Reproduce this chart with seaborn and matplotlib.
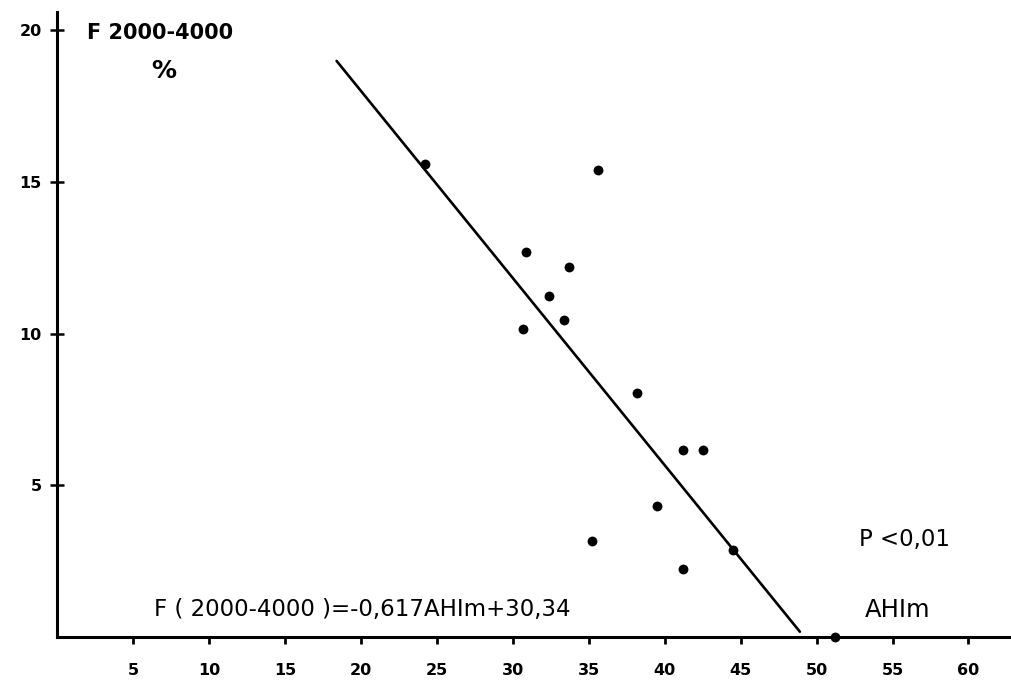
import matplotlib
matplotlib.use("Agg")
import matplotlib.pyplot as plt
import seaborn as sns
import numpy as np
import pandas as pd

# Data
ahim = [24.2, 35.6, 30.9, 33.7, 32.4, 33.4, 30.7, 38.2, 41.2, 42.5, 39.5, 35.2, 44.5, 41.2, 51.2]
f_pct = [15.6, 15.4, 12.7, 12.2, 11.25, 10.45, 10.15, 8.05, 6.15, 6.15, 4.3, 3.15, 2.85, 2.25, 0.0]
slope = -0.617
intercept = 30.34
line_x_range = [18.4, 48.9]
x_ticks = [5, 10, 15, 20, 25, 30, 35, 40, 45, 50, 55, 60]
y_ticks = [5, 10, 15, 20]

sns.set_theme(style="white")
plt.rcParams['font.family'] = ['DejaVu Sans']
plt.rcParams['text.color'] = 'black'
plt.rcParams['xtick.color'] = 'black'
plt.rcParams['ytick.color'] = 'black'

fig = plt.figure(figsize=(10.11, 6.87), dpi=100)
ax = fig.add_axes([0.0565, 0.073, 0.9435, 0.9095])

df = pd.DataFrame({"AHIm": ahim, "F": f_pct})
sns.scatterplot(data=df, x="AHIm", y="F", ax=ax, color="black", s=50,
                edgecolor="black", linewidth=0, zorder=5, clip_on=False)

lx = np.array(line_x_range)
ly = slope * lx + intercept
sns.lineplot(x=lx, y=ly, ax=ax, color="black", linewidth=1.9, zorder=4)

ax.set_xlim(0, 62.8)
ax.set_ylim(0, 20.6)
ax.set_xticks(x_ticks)
ax.set_yticks(y_ticks)
ax.set_xticklabels([str(t) for t in x_ticks], fontsize=11.5, fontweight="bold", color="black")
ax.set_yticklabels([str(t) for t in y_ticks], fontsize=11.5, fontweight="bold", color="black")
ax.set_xlabel("")
ax.set_ylabel("")

for s in ["top", "right"]:
    ax.spines[s].set_visible(False)
for s in ["left", "bottom"]:
    ax.spines[s].set_color("black")
    ax.spines[s].set_linewidth(2.2)

ax.tick_params(axis="x", direction="out", length=5, width=2, color="black", pad=14, bottom=True)
ax.tick_params(axis="y", direction="inout", length=10, width=1.8, color="black", pad=6, left=True)

ax.text(2.0, 19.9, "F 2000-4000", fontsize=15, fontweight="bold", ha="left", va="center", color="black")
ax.text(7.0, 18.65, "%", fontsize=18, fontweight="bold", ha="center", va="center", color="black")
ax.text(6.4, 0.9, "F ( 2000-4000 )=-0,617AHIm+30,34", fontsize=16.5, ha="left", va="center", color="black")
ax.text(52.8, 3.20, "P <0,01", fontsize=16.5, ha="left", va="center", color="black")
ax.text(53.2, 0.9, "AHIm", fontsize=17.5, ha="left", va="center", color="black")

fig.savefig("out.png", dpi=100, facecolor="white")
